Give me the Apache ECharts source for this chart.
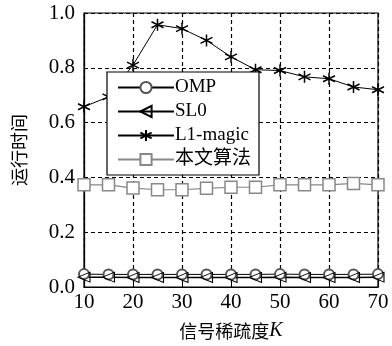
<!DOCTYPE html>
<html><head><meta charset="utf-8">
<script src="https://cdn.jsdelivr.net/npm/echarts@6/dist/echarts.min.js"></script>
<style>html,body{margin:0;padding:0;background:#fff}#c{width:392px;height:346px}</style>
</head><body><div id="c"></div>
<script>
var kValues = [10,15,20,25,30,35,40,45,50,55,60,65,70];
var ompTime = [0.047,0.046,0.046,0.046,0.046,0.046,0.046,0.046,0.047,0.046,0.046,0.046,0.047];
var sl0Time = [0.036,0.036,0.035,0.035,0.035,0.035,0.035,0.035,0.036,0.035,0.035,0.035,0.036];
var l1Time = [0.658,0.694,0.81,0.957,0.943,0.90,0.84,0.793,0.79,0.767,0.76,0.73,0.72];
var oursTime = [0.373,0.373,0.361,0.355,0.355,0.36,0.364,0.364,0.373,0.373,0.373,0.378,0.373];
var seriesNames = ['OMP','SL0','L1-magic','本文算法'];
var xTicks = [10,20,30,40,50,60,70];
var yTicks = [0.0,0.2,0.4,0.6,0.8,1.0];

function pairs(v){return kValues.map(function(k,i){return [k,v[i]];});}
var serif = '"Liberation Serif","Times New Roman",serif';
var cjk = '"Noto Sans CJK SC",sans-serif';
var star = 'path://M0,-6L0,6M-5.2,-3L5.2,3M-5.2,3L5.2,-3';
var chart = echarts.init(document.getElementById('c'));
chart.setOption({
  animation:false,
  grid:{left:84,right:14,top:13,bottom:59,show:true,borderColor:'#000',borderWidth:1.2,backgroundColor:'transparent'},
  legend:{
    orient:'vertical', left:107, top:72, width:149,
    padding:[6,8,6,10], itemGap:5, itemWidth:56, itemHeight:14,
    borderColor:'#000', borderWidth:1.2, backgroundColor:'#fff',
    textStyle:{fontFamily:serif+','+cjk, fontSize:19, color:'#000', padding:[0,0,0,-4]},
    data:seriesNames
  },
  xAxis:{type:'value',min:10,max:70,interval:10,
    name:'信号稀疏度{i|K}', nameLocation:'middle', nameGap:34,
    nameTextStyle:{fontFamily:cjk,fontSize:18,color:'#000',rich:{i:{fontFamily:serif,fontStyle:'italic',fontSize:20,color:'#000'}}},
    axisLine:{lineStyle:{color:'#000',width:1.2}},
    axisTick:{inside:true,length:4,lineStyle:{color:'#000'}},
    axisLabel:{fontFamily:serif,fontSize:21,color:'#000',margin:5},
    splitLine:{show:true,lineStyle:{color:'#000',type:[4,3],width:1.2}}
  },
  yAxis:{type:'value',min:0,max:1,interval:0.2,
    name:'运行时间', nameLocation:'middle', nameGap:56, nameRotate:90,
    nameTextStyle:{fontFamily:cjk,fontSize:18,color:'#000'},
    axisLine:{show:true,lineStyle:{color:'#000',width:1.2}},
    axisTick:{inside:true,length:4,lineStyle:{color:'#000'}},
    axisLabel:{fontFamily:serif,fontSize:21,color:'#000',margin:9,formatter:function(v){return v.toFixed(1);}},
    splitLine:{show:true,lineStyle:{color:'#000',type:[4,3],width:1.2}}
  },
  series:[
    {name:'OMP',type:'line',data:pairs(ompTime),symbol:'emptyCircle',symbolSize:10,
      lineStyle:{color:'#000',width:1},itemStyle:{color:'#555',borderColor:'#555',borderWidth:0.8}},
    {name:'SL0',type:'line',data:pairs(sl0Time),symbol:'triangle',symbolRotate:90,symbolSize:[10,12],
      lineStyle:{color:'#000',width:1.5},itemStyle:{color:'rgba(255,255,255,0)',borderColor:'#000',borderWidth:1}},
    {name:'L1-magic',type:'line',data:pairs(l1Time),symbol:star,symbolSize:12,
      lineStyle:{color:'#000',width:1},itemStyle:{color:'#000',borderColor:'#000',borderWidth:1.5}},
    {name:'本文算法',type:'line',data:pairs(oursTime),symbol:'rect',symbolSize:12,
      lineStyle:{color:'#888',width:1.2},itemStyle:{color:'#fff',borderColor:'#888',borderWidth:1.5}}
  ]
});
</script></body></html>
